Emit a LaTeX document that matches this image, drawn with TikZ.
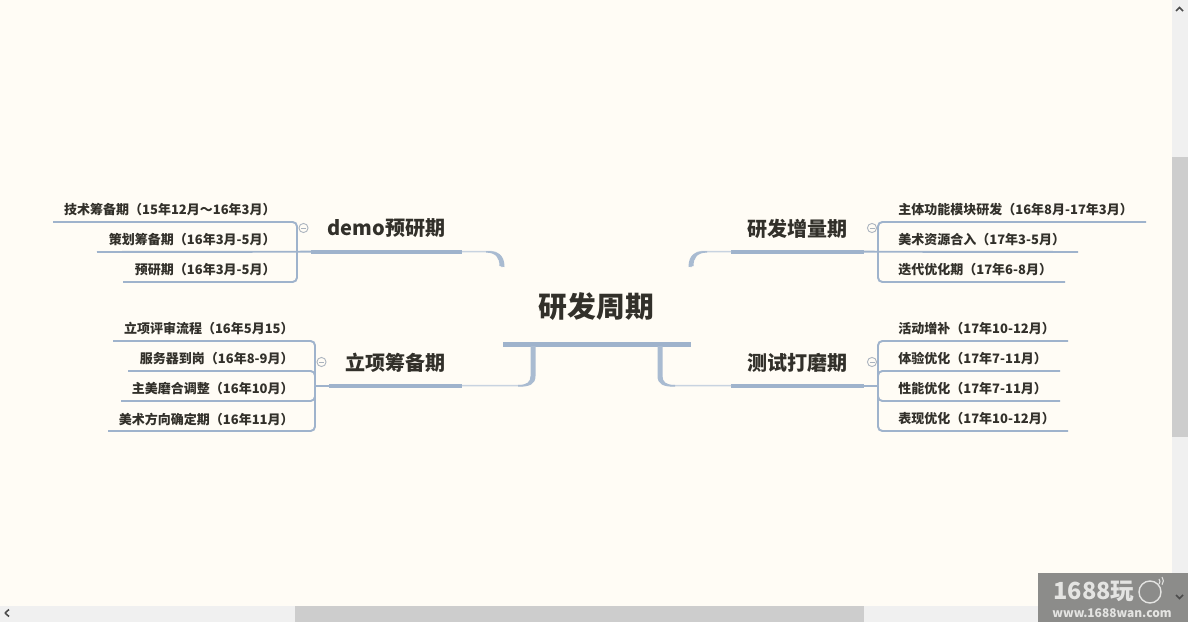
\documentclass[tikz,border=0pt]{standalone}
\usepackage{fontspec}
\usepackage{xcolor}
\usepackage{tikz}
\usetikzlibrary{positioning,calc}
\setmainfont{Noto Sans CJK SC}
\definecolor{paperbg}{HTML}{FFFCF5}
\definecolor{linkblue}{HTML}{9FB3CC}
\definecolor{linkpale}{HTML}{C8D3E0}
\definecolor{inkdark}{HTML}{32302A}
\definecolor{trackgray}{HTML}{F0F0F0}
\definecolor{thumbgray}{HTML}{CDCDCD}
\definecolor{stampgray}{HTML}{8C8C8A}
\definecolor{stamptext}{HTML}{E4E4E2}
\tikzset{
  roottext/.style={font=\fontsize{16.4}{18}\selectfont\bfseries, text=inkdark, inner sep=0pt},
  branchtext/.style={font=\fontsize{11.4}{13}\selectfont\bfseries, text=inkdark, inner sep=0pt},
  leaftext/.style={font=\fontsize{7.4}{9}\selectfont\bfseries, text=inkdark, inner sep=0pt},
  rootbar/.style={draw=linkblue, line width=3pt},
  branchbar/.style={draw=linkblue, line width=2.5pt},
  thinlink/.style={draw=linkpale, line width=0.9pt, rounded corners=6pt},
  taper/.style={fill=linkblue!90!white},
  leafline/.style={draw=linkblue, line width=1.1pt, rounded corners=2.5pt},
  foldmark/.style={circle, draw=linkpale!85!black, line width=0.5pt, minimum size=5.2pt, inner sep=0pt},
  arrowmark/.style={draw=black!70, line width=0.9pt}
}
\begin{document}
\begin{tikzpicture}[x=0.02cm,y=-0.02cm]
\useasboundingbox (0,0) rectangle (1188,622);
\fill[paperbg] (0,0) rectangle (1188,622);

% Centre topic
\node[roottext] (root) at (596.5,306.5) {研发周期};
\coordinate (rootl) at (503,344.5);
\coordinate (rootr) at (691,344.5);
\draw[rootbar] (rootl) -- (rootr);

% Branch titles and their bars
\node[branchtext, anchor=east] (demo) at (445.5,228.5) {demo预研期};
\node[branchtext, anchor=east] (setup) at (445.5,362.5) {立项筹备期};
\node[branchtext, anchor=east] (grow) at (847.5,228.5) {研发增量期};
\node[branchtext, anchor=east] (polish) at (847.5,362.5) {测试打磨期};
\coordinate (demoa) at (311,251.7);
\coordinate (demob) at (462,251.7);
\coordinate (setupa) at (329,385.7);
\coordinate (setupb) at (462,385.7);
\coordinate (growa) at (731,251.7);
\coordinate (growb) at (864,251.7);
\coordinate (polisha) at (731,385.7);
\coordinate (polishb) at (864,385.7);
\draw[branchbar] (demoa) -- (demob);
\draw[branchbar] (setupa) -- (setupb);
\draw[branchbar] (growa) -- (growb);
\draw[branchbar] (polisha) -- (polishb);

% Links towards the centre
\coordinate (demotip) at (502,267);
\coordinate (growtip) at (691,267);
\coordinate (setuptip) at (533,346);
\coordinate (polishtip) at (660.5,346);
\draw[thinlink] (demob) -| (demotip);
\draw[thinlink] (growa) -| (growtip);
\draw[thinlink] (setupb) -| (setuptip);
\draw[thinlink] (polisha) -| (polishtip);
\fill[taper] (486,251) .. controls (497,251) and (504.5,254) .. (504.5,267) -- (499.5,266) .. controls (499.5,258) and (496,252.6) .. (486,252.6) -- cycle;
\fill[taper] (707,251) .. controls (696,251) and (688.5,254) .. (688.5,267) -- (693.5,266) .. controls (693.5,258) and (697,252.6) .. (707,252.6) -- cycle;
\fill[taper] (535.5,346) -- (535.5,376) .. controls (535.5,384) and (530,387) .. (518,386.6) -- (518,385) .. controls (527,385) and (530.5,382) .. (530.5,376) -- (530.5,346) -- cycle;
\fill[taper] (657.5,346) -- (657.5,376) .. controls (657.5,384) and (663,387) .. (675,386.6) -- (675,385) .. controls (666,385) and (662.5,382) .. (662.5,376) -- (662.5,346) -- cycle;

% Leaves of demo branch
\node[leaftext, anchor=east] (tech) at (276,210) {技术筹备期（15年12月～16年3月）};
\node[leaftext, anchor=east] (plan) at (276,240) {策划筹备期（16年3月-5月）};
\node[leaftext, anchor=east] (pre) at (276,270) {预研期（16年3月-5月）};
\coordinate (techend) at (53,222);
\coordinate (planend) at (97,252);
\coordinate (preend) at (123,282);
\coordinate (demofork) at (297,251.7);
\draw[leafline] (techend) -| (demofork);
\draw[leafline] (preend) -| (demofork);
\draw[leafline] (planend) -- (demoa);

% Leaves of setup branch
\node[leaftext, anchor=east] (review) at (294,329) {立项评审流程（16年5月15）};
\node[leaftext, anchor=east] (server) at (294,359) {服务器到岗（16年8-9月）};
\node[leaftext, anchor=east] (lead) at (294,389) {主美磨合调整（16年10月）};
\node[leaftext, anchor=east] (style) at (294,419) {美术方向确定期（16年11月）};
\coordinate (reviewend) at (113,341);
\coordinate (serverend) at (128,371);
\coordinate (leadend) at (121,401);
\coordinate (styleend) at (108,431);
\coordinate (setupfork) at (315,385.7);
\draw[leafline] (reviewend) -| (setupfork);
\draw[leafline] (serverend) -| (setupfork);
\draw[leafline] (leadend) -| (setupfork);
\draw[leafline] (styleend) -| (setupfork);
\draw[leafline] (setupfork) -- (setupa);

% Leaves of grow branch
\node[leaftext, anchor=west] (body) at (898,210) {主体功能模块研发（16年8月-17年3月）};
\node[leaftext, anchor=west] (art) at (898,240) {美术资源合入（17年3-5月）};
\node[leaftext, anchor=west] (iter) at (898,270) {迭代优化期（17年6-8月）};
\coordinate (bodyend) at (1146,222);
\coordinate (artend) at (1078,252);
\coordinate (iterend) at (1065,282);
\coordinate (growfork) at (878,251.7);
\draw[leafline] (bodyend) -| (growfork);
\draw[leafline] (iterend) -| (growfork);
\draw[leafline] (growb) -- (artend);

% Leaves of polish branch
\node[leaftext, anchor=west] (event) at (898,329) {活动增补（17年10-12月）};
\node[leaftext, anchor=west] (feel) at (898,359) {体验优化（17年7-11月）};
\node[leaftext, anchor=west] (perf) at (898,389) {性能优化（17年7-11月）};
\node[leaftext, anchor=west] (show) at (898,419) {表现优化（17年10-12月）};
\coordinate (eventend) at (1068,341);
\coordinate (feelend) at (1060,371);
\coordinate (perfend) at (1060,401);
\coordinate (showend) at (1068,431);
\coordinate (polishfork) at (878,385.7);
\draw[leafline] (eventend) -| (polishfork);
\draw[leafline] (feelend) -| (polishfork);
\draw[leafline] (perfend) -| (polishfork);
\draw[leafline] (showend) -| (polishfork);
\draw[leafline] (polishb) -- (polishfork);

% Fold marks
\foreach \name/\x/\y in {folda/303.5/228, foldb/321.5/362, foldc/872/228, foldd/872/362}{
  \node[foldmark] (\name) at (\x,\y) {};
  \draw[linkpale!85!black, line width=0.4pt] ($(\name)+(-2.5,0)$) -- ($(\name)+(2.5,0)$);
}

% Scroll bars
\fill[trackgray] (1172,0) rectangle (1188,622);
\fill[trackgray] (0,606) rectangle (1172,622);
\fill[thumbgray] (1172,157) rectangle (1188,437);
\fill[thumbgray] (295,606) rectangle (864,622);
\draw[arrowmark] (5,613) -- (9,609.5) (5,613) -- (9,616.5);
\draw[arrowmark] (1176,11) -- (1179.5,7.5) -- (1183,11);

% Stamp in the corner
\fill[stampgray] (1038,573) rectangle (1188,622);
\node[font=\fontsize{13.4}{15}\selectfont\bfseries, text=stamptext, inner sep=0pt, anchor=west] (stamp) at (1053,591) {1688玩};
\node[font=\fontsize{6.8}{8}\selectfont\bfseries, text=stamptext, inner sep=0pt] (site) at (1112,613) {www.1688wan.com};
\draw[stamptext, line width=0.8pt] (1150,592) circle (11);
\draw[stamptext, line width=0.6pt] (1159,579) arc (-40:40:4) (1162,577) arc (-40:40:6);
\draw[arrowmark] (1176,595) -- (1179.5,598.5) -- (1183,595);
\end{tikzpicture}
\end{document}
